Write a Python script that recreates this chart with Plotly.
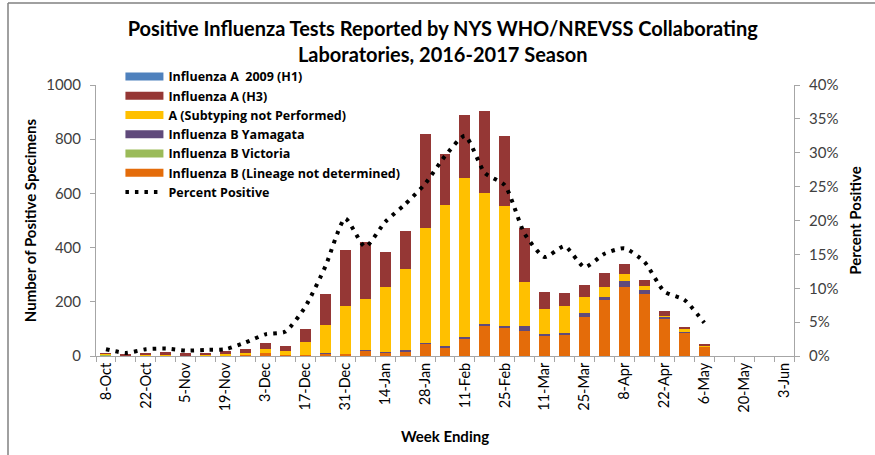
import plotly.graph_objects as go

weeks = ["8-Oct", "15-Oct", "22-Oct", "29-Oct", "5-Nov", "12-Nov", "19-Nov", "26-Nov",
         "3-Dec", "10-Dec", "17-Dec", "24-Dec", "31-Dec", "7-Jan", "14-Jan", "21-Jan",
         "28-Jan", "4-Feb", "11-Feb", "18-Feb", "25-Feb", "4-Mar", "11-Mar", "18-Mar",
         "25-Mar", "1-Apr", "8-Apr", "15-Apr", "22-Apr", "29-Apr", "6-May", "13-May",
         "20-May", "27-May", "3-Jun"]

b_lineage_nd = [2, 1, 3, 3, 1, 2, 3, 3, 10, 3, 3, 10, 6, 19, 13, 18, 47, 32, 64, 111,
                104, 94, 74, 79, 144, 207, 255, 229, 135, 85, 34, 0, 0, 0, 0]
b_victoria = [2, 0, 0, 0, 0, 0, 0, 0, 0, 0, 0, 0, 0, 0, 0, 0, 0, 0, 1, 1,
              1, 0, 3, 0, 1, 1, 1, 1, 0, 0, 0, 0, 0, 0, 0]
b_yamagata = [0, 0, 0, 0, 0, 0, 0, 0, 0, 0, 0, 2, 0, 2, 2, 4, 2, 6, 5, 6,
              6, 16, 5, 7, 14, 11, 19, 14, 10, 5, 0, 0, 0, 0, 0]
a_not_subtyped = [4, 1, 2, 2, 0, 1, 6, 8, 17, 14, 49, 104, 178, 189, 240, 300, 422, 519, 585, 484,
                  444, 164, 92, 98, 57, 36, 29, 15, 4, 12, 6, 0, 0, 0, 0]
a_h3 = [2, 2, 7, 8, 10, 9, 8, 16, 22, 20, 49, 112, 209, 212, 130, 138, 350, 188, 236, 303,
        255, 200, 61, 48, 47, 51, 34, 20, 16, 4, 1, 0, 0, 0, 0]
a_h1 = [0] * 35
percent_positive = [1.0, 0.45, 1.0, 1.1, 0.8, 0.9, 1.0, 2.0, 3.2, 3.6, 7.3, 13.2, 20.3, 16.1,
                    19.8, 22.4, 25.4, 29.5, 32.5, 27.0, 25.2, 18.0, 14.6, 16.2, 13.1, 15.1,
                    15.9, 13.9, 9.5, 8.3, 4.9, None, None, None, None]

left_ticks = [0, 200, 400, 600, 800, 1000]
right_ticks = [0, 5, 10, 15, 20, 25, 30, 35, 40]
right_ticktext = [f"{v}%" for v in right_ticks]

series = [
    ("Influenza B (Lineage not determined)", b_lineage_nd, "#E46C0A", 6),
    ("Influenza B Victoria", b_victoria, "#9BBB59", 5),
    ("Influenza B Yamagata", b_yamagata, "#604A7B", 4),
    ("A (Subtyping not Performed)", a_not_subtyped, "#FFC000", 3),
    ("Influenza A (H3)", a_h3, "#953735", 2),
    ("Influenza A  2009 (H1)", a_h1, "#4F81BD", 1),
]

x = list(range(len(weeks)))
FONT = "Lato"

fig = go.Figure()
for name, vals, color, rank in series:
    fig.add_trace(go.Bar(x=x, y=vals, name=name, marker=dict(color=color, line=dict(width=0)),
                         showlegend=False, yaxis="y"))
# legend entries as wide swatches
for name, vals, color, rank in series:
    fig.add_trace(go.Scatter(x=[None], y=[None], mode="lines", name=name,
                             line=dict(color=color, width=8), legendrank=rank, yaxis="y"))

fig.add_trace(go.Scatter(x=x, y=percent_positive, name="Percent Positive", mode="lines",
                         line=dict(color="black", width=4, dash="3.5px,6px", shape="spline",
                                   smoothing=0.6),
                         yaxis="y2", legendrank=7, connectgaps=False))

fig.update_layout(
    width=875, height=455,
    margin=dict(l=96, r=81, t=85, b=99, autoexpand=False),
    paper_bgcolor="white", plot_bgcolor="white",
    barmode="stack", bargap=0.45,
    font=dict(family=FONT, color="#404040"),
    title=dict(text="<b>Positive Influenza Tests Reported by NYS WHO/NREVSS Collaborating<br>Laboratories, 2016-2017 Season</b>",
               x=0.506, xanchor="center", y=1 - 35.5 / 455, yanchor="middle", yref="container",
               font=dict(family=FONT, size=20, color="black")),
    legend=dict(x=0.035, y=1.085, xanchor="left", yanchor="top", bgcolor="rgba(0,0,0,0)",
                font=dict(family="Open Sans", size=12.5, color="black", weight="bold"),
                itemwidth=38, tracegroupgap=0, traceorder="normal"),
    xaxis=dict(range=[-0.5, len(weeks) - 0.5], tickmode="array",
               tickvals=x[::2], ticktext=weeks[::2], tickangle=-90,
               ticks="", showline=True, linecolor="#A6A6A6", linewidth=1,
               tickfont=dict(family=FONT, size=14.5, color="black"),
               minor=dict(tickmode="array", tickvals=[i - 0.5 for i in range(len(weeks) + 1)],
                          ticks="outside", ticklen=5, tickcolor="#A6A6A6", showgrid=False),
               showgrid=False, zeroline=False, automargin=False,
               title=dict(text="<b>Week Ending</b>", font=dict(family=FONT, size=15, color="black"),
                          standoff=19)),
    yaxis=dict(range=[0, 1000], tickvals=left_ticks, showgrid=False, zeroline=False,
               showline=True, linecolor="#A6A6A6", ticks="outside", ticklen=5,
               tickcolor="#A6A6A6", tickfont=dict(family=FONT, size=15, color="#404040"),
               automargin=False, ticklabelstandoff=6,
               title=dict(text="<b>Number of Positive Specimens</b>",
                          font=dict(family=FONT, size=15, color="black"), standoff=5)),
    yaxis2=dict(range=[0, 40], tickmode="array", tickvals=right_ticks, ticktext=right_ticktext,
                overlaying="y", side="right",
                showgrid=False, zeroline=False, showline=True, linecolor="#A6A6A6",
                ticks="outside", ticklen=5, tickcolor="#A6A6A6", automargin=False,
                ticklabelstandoff=6,
                tickfont=dict(family=FONT, size=15, color="#404040"),
                title=dict(text="<b>Percent Positive</b>",
                           font=dict(family=FONT, size=15, color="black"), standoff=13)),
    shapes=[
        dict(type="line", xref="paper", yref="paper", x0=-88 / 698, x1=1.2, y0=1 + 82 / 271,
             y1=1 + 82 / 271, line=dict(color="#808080", width=1.5)),
        dict(type="line", xref="paper", yref="paper", x0=-88 / 698, x1=-88 / 698, y0=-0.5,
             y1=1 + 82 / 271, line=dict(color="#808080", width=1.5)),
    ],
)

fig.write_html("out.html", config={"displayModeBar": False},
               post_script="document.body.style.margin='0';")
